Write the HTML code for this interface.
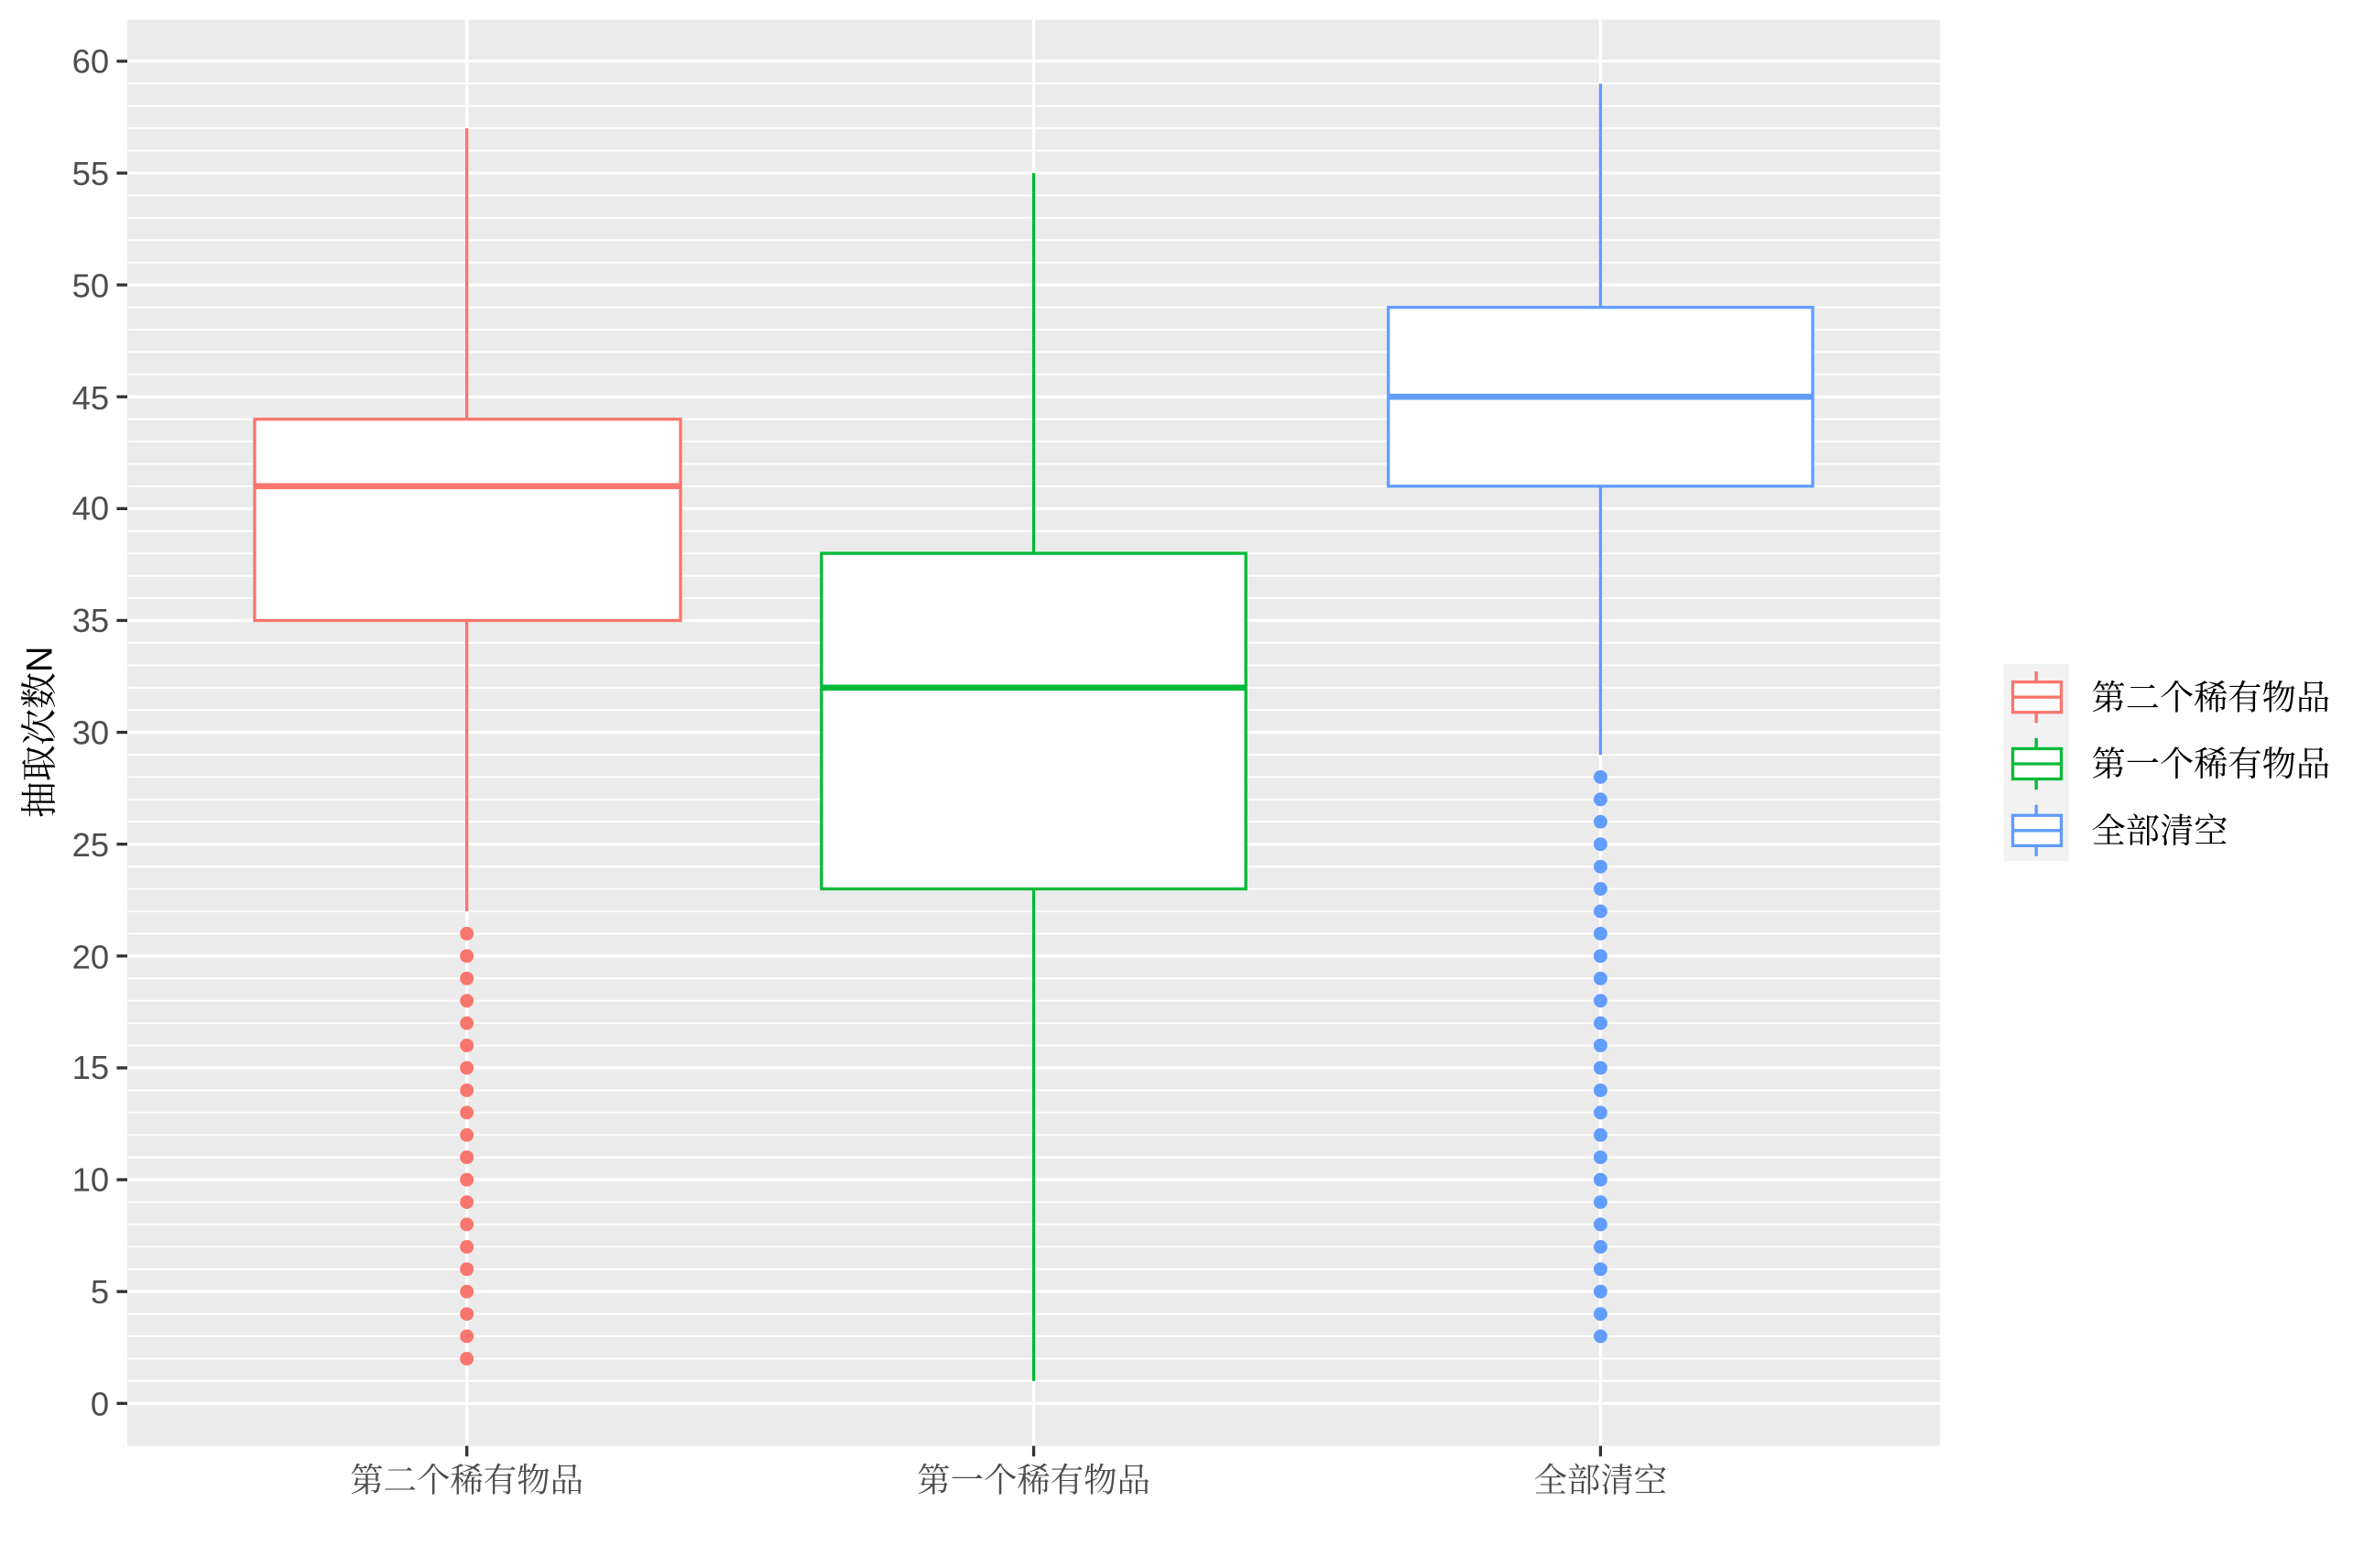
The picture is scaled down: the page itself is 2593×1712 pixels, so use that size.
<!DOCTYPE html>
<html><head><meta charset="utf-8"><style>html,body{margin:0;padding:0;background:#fff}svg{display:block}</style></head>
<body>
<svg width="2593" height="1712" viewBox="0 0 1567 1034.6" preserveAspectRatio="none" xmlns="http://www.w3.org/2000/svg">
<defs>
<pattern id="g" patternUnits="userSpaceOnUse" x="0" y="-0.6" width="2000" height="14.76">
<rect x="0" y="0" width="2000" height="1.2" fill="#fff"/>
</pattern>
</defs>
<rect x="0" y="0" width="1567" height="1035" fill="#fff"/>
<rect x="84" y="13" width="1196" height="941" fill="#EBEBEB"/>
<g transform="translate(0,926)">
<rect x="84" y="-886" width="1196" height="888" fill="url(#g)"/>
</g>
<g stroke="#fff" stroke-width="2">
<line x1="84" x2="1280" y1="926" y2="926"/><line x1="84" x2="1280" y1="852.2" y2="852.2"/>
<line x1="84" x2="1280" y1="778.4" y2="778.4"/><line x1="84" x2="1280" y1="704.6" y2="704.6"/>
<line x1="84" x2="1280" y1="630.8" y2="630.8"/><line x1="84" x2="1280" y1="557" y2="557"/>
<line x1="84" x2="1280" y1="483.2" y2="483.2"/><line x1="84" x2="1280" y1="409.4" y2="409.4"/>
<line x1="84" x2="1280" y1="335.6" y2="335.6"/><line x1="84" x2="1280" y1="261.8" y2="261.8"/>
<line x1="84" x2="1280" y1="188" y2="188"/><line x1="84" x2="1280" y1="114.2" y2="114.2"/>
<line x1="84" x2="1280" y1="40.4" y2="40.4"/>
<line x1="308" x2="308" y1="13" y2="954"/><line x1="682" x2="682" y1="13" y2="954"/><line x1="1056" x2="1056" y1="13" y2="954"/>
</g>
<g stroke="#F8766D" stroke-width="2" fill="none">
<line x1="308" x2="308" y1="84.7" y2="276.6"/><line x1="308" x2="308" y1="409.4" y2="601.3"/>
<rect x="168" y="276.6" width="281" height="132.8" fill="#fff"/>
<line x1="168" x2="449" y1="320.8" y2="320.8" stroke-width="4"/>
</g>
<g fill="#F8766D">
<circle cx="308" cy="896.5" r="4.5"/><circle cx="308" cy="881.7" r="4.5"/><circle cx="308" cy="867" r="4.5"/><circle cx="308" cy="852.2" r="4.5"/><circle cx="308" cy="837.4" r="4.5"/><circle cx="308" cy="822.7" r="4.5"/><circle cx="308" cy="807.9" r="4.5"/><circle cx="308" cy="793.2" r="4.5"/><circle cx="308" cy="778.4" r="4.5"/><circle cx="308" cy="763.6" r="4.5"/><circle cx="308" cy="748.9" r="4.5"/><circle cx="308" cy="734.1" r="4.5"/><circle cx="308" cy="719.4" r="4.5"/><circle cx="308" cy="704.6" r="4.5"/><circle cx="308" cy="689.8" r="4.5"/><circle cx="308" cy="675.1" r="4.5"/><circle cx="308" cy="660.3" r="4.5"/><circle cx="308" cy="645.6" r="4.5"/><circle cx="308" cy="630.8" r="4.5"/><circle cx="308" cy="616" r="4.5"/>
</g>
<g stroke="#00BA38" stroke-width="2" fill="none">
<line x1="682" x2="682" y1="114.2" y2="365.1"/><line x1="682" x2="682" y1="586.5" y2="911.2"/>
<rect x="542" y="365.1" width="280" height="221.4" fill="#fff"/>
<line x1="542" x2="822" y1="453.7" y2="453.7" stroke-width="4"/>
</g>
<g stroke="#619CFF" stroke-width="2" fill="none">
<line x1="1056" x2="1056" y1="55.2" y2="202.8"/><line x1="1056" x2="1056" y1="320.8" y2="498"/>
<rect x="916" y="202.8" width="280" height="118" fill="#fff"/>
<line x1="916" x2="1196" y1="261.8" y2="261.8" stroke-width="4"/>
</g>
<g fill="#619CFF">
<circle cx="1056" cy="881.7" r="4.5"/><circle cx="1056" cy="867" r="4.5"/><circle cx="1056" cy="852.2" r="4.5"/><circle cx="1056" cy="837.4" r="4.5"/><circle cx="1056" cy="822.7" r="4.5"/><circle cx="1056" cy="807.9" r="4.5"/><circle cx="1056" cy="793.2" r="4.5"/><circle cx="1056" cy="778.4" r="4.5"/><circle cx="1056" cy="763.6" r="4.5"/><circle cx="1056" cy="748.9" r="4.5"/><circle cx="1056" cy="734.1" r="4.5"/><circle cx="1056" cy="719.4" r="4.5"/><circle cx="1056" cy="704.6" r="4.5"/><circle cx="1056" cy="689.8" r="4.5"/><circle cx="1056" cy="675.1" r="4.5"/><circle cx="1056" cy="660.3" r="4.5"/><circle cx="1056" cy="645.6" r="4.5"/><circle cx="1056" cy="630.8" r="4.5"/><circle cx="1056" cy="616" r="4.5"/><circle cx="1056" cy="601.3" r="4.5"/><circle cx="1056" cy="586.5" r="4.5"/><circle cx="1056" cy="571.8" r="4.5"/><circle cx="1056" cy="557" r="4.5"/><circle cx="1056" cy="542.2" r="4.5"/><circle cx="1056" cy="527.5" r="4.5"/><circle cx="1056" cy="512.7" r="4.5"/>
</g>
<g stroke="#333" stroke-width="2">
<line x1="77" x2="84" y1="926" y2="926"/><line x1="77" x2="84" y1="852.2" y2="852.2"/><line x1="77" x2="84" y1="778.4" y2="778.4"/><line x1="77" x2="84" y1="704.6" y2="704.6"/><line x1="77" x2="84" y1="630.8" y2="630.8"/><line x1="77" x2="84" y1="557" y2="557"/><line x1="77" x2="84" y1="483.2" y2="483.2"/><line x1="77" x2="84" y1="409.4" y2="409.4"/><line x1="77" x2="84" y1="335.6" y2="335.6"/><line x1="77" x2="84" y1="261.8" y2="261.8"/><line x1="77" x2="84" y1="188" y2="188"/><line x1="77" x2="84" y1="114.2" y2="114.2"/><line x1="77" x2="84" y1="40.4" y2="40.4"/>
<line x1="308" x2="308" y1="954" y2="961"/><line x1="682" x2="682" y1="954" y2="961"/><line x1="1056" x2="1056" y1="954" y2="961"/>
</g>
<g font-family="Liberation Sans, sans-serif" font-size="22" fill="#4D4D4D" text-anchor="end">
<text x="72" y="934">0</text><text x="72" y="860">5</text><text x="72" y="786">10</text><text x="72" y="712">15</text><text x="72" y="639">20</text><text x="72" y="565">25</text><text x="72" y="491">30</text><text x="72" y="417">35</text><text x="72" y="343">40</text><text x="72" y="270">45</text><text x="72" y="196">50</text><text x="72" y="122">55</text><text x="72" y="48">60</text>
</g>
<g font-family="'Noto Serif CJK SC', serif" font-size="22" fill="#4D4D4D" text-anchor="middle">
<text x="308" y="984">第二个稀有物品</text><text x="682" y="984">第一个稀有物品</text><text x="1056" y="984">全部清空</text>
</g>
<text transform="translate(34,483) rotate(-90)" text-anchor="middle" font-family="'Liberation Sans','Noto Serif CJK SC', serif" font-size="24" fill="#000">抽取次数N</text>
<rect x="1322" y="438" width="43" height="130" fill="#F2F2F2"/>
<g stroke-width="2" fill="#fff">
<g stroke="#F8766D"><line x1="1343.5" x2="1343.5" y1="443" y2="477"/><rect x="1328" y="450" width="32" height="20"/><line x1="1328" x2="1360" y1="460" y2="460"/></g>
<g stroke="#00BA38"><line x1="1343.5" x2="1343.5" y1="487" y2="521"/><rect x="1328" y="494" width="32" height="20"/><line x1="1328" x2="1360" y1="504" y2="504"/></g>
<g stroke="#619CFF"><line x1="1343.5" x2="1343.5" y1="531" y2="565"/><rect x="1328" y="538" width="32" height="20"/><line x1="1328" x2="1360" y1="548" y2="548"/></g>
</g>
<g font-family="'Noto Serif CJK SC', serif" font-size="22.5" fill="#000">
<text x="1380" y="468">第二个稀有物品</text><text x="1380" y="512">第一个稀有物品</text><text x="1380" y="556">全部清空</text>
</g>
</svg>
</body></html>
